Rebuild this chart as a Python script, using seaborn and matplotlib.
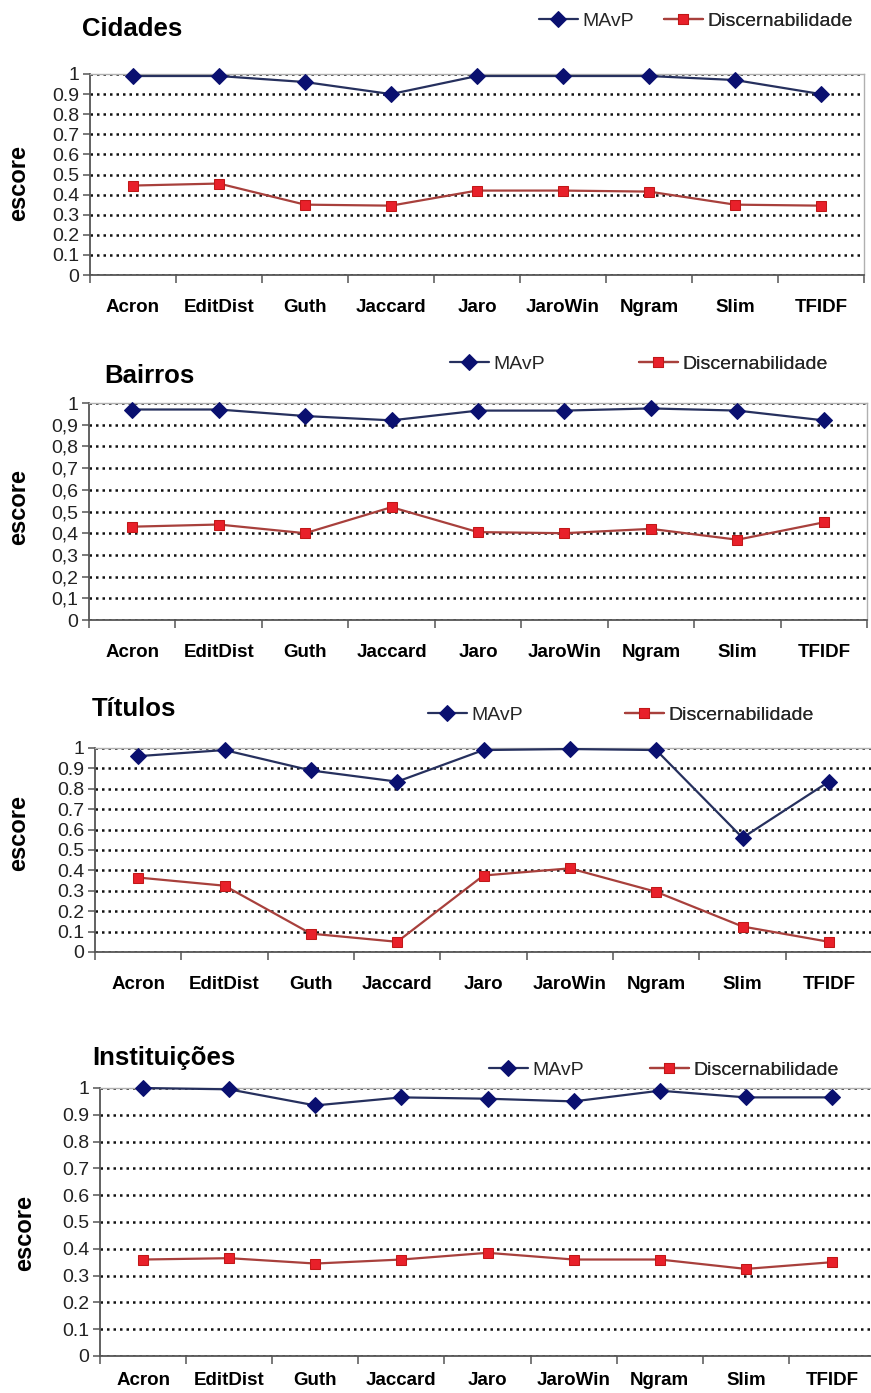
import numpy as np
import pandas as pd
import matplotlib
matplotlib.use("Agg")
import matplotlib.pyplot as plt
import seaborn as sns
from matplotlib.ticker import FixedLocator, FuncFormatter

# Métodos de similaridade avaliados
metodos = ["Acron", "EditDist", "Guth", "Jaccard", "Jaro", "JaroWin", "Ngram", "Slim", "TFIDF"]

# Escores por base de dados
cidades_mavp = [0.99, 0.99, 0.96, 0.90, 0.99, 0.99, 0.99, 0.97, 0.90]
cidades_disc = [0.445, 0.455, 0.35, 0.345, 0.42, 0.42, 0.415, 0.35, 0.345]

bairros_mavp = [0.97, 0.97, 0.94, 0.92, 0.965, 0.965, 0.975, 0.965, 0.92]
bairros_disc = [0.43, 0.44, 0.40, 0.52, 0.405, 0.40, 0.42, 0.37, 0.45]

titulos_mavp = [0.96, 0.99, 0.89, 0.835, 0.99, 0.995, 0.99, 0.56, 0.835]
titulos_disc = [0.365, 0.325, 0.09, 0.05, 0.375, 0.41, 0.295, 0.125, 0.05]

instituicoes_mavp = [1.0, 0.995, 0.935, 0.965, 0.96, 0.95, 0.99, 0.965, 0.965]
instituicoes_disc = [0.36, 0.365, 0.345, 0.36, 0.385, 0.36, 0.36, 0.325, 0.35]

titulos_paineis = ["Cidades", "Bairros", "Títulos", "Instituições"]
series_mavp = [cidades_mavp, bairros_mavp, titulos_mavp, instituicoes_mavp]
series_disc = [cidades_disc, bairros_disc, titulos_disc, instituicoes_disc]
separador_decimal = [".", ",", ".", "."]

# Geometria de cada painel em pixels: (esq, dir, topo, base)
W, H = 871, 1393
caixas = [(90, 864, 74, 275), (89, 867, 403, 620), (95, 872, 748, 952), (100, 875, 1088, 1356)]
pad_rotulos_x = [17, 17, 17, 11.5]
pos_titulo = [(82, 29), (104, 376), (92, 709), (92, 1058)]
pos_legenda = [((539, 21), (664, 21)), ((450, 364), (639, 364)),
               ((428, 715), (625, 715)), ((489, 1070), (650, 1070))]
pos_rotulo_y = [(30, 183), (30, 507), (30, 833), (36, 1233)]

COR_LINHA_MAVP = "#26305e"
COR_MARCA_MAVP = "#0a1070"
COR_LINHA_DISC = "#a8403c"
COR_MARCA_DISC = "#e8202a"

sns.set_theme(style="white")
plt.rcParams["font.family"] = ["Liberation Sans", "DejaVu Sans"]

fig = plt.figure(figsize=(W / 100, H / 100), dpi=100)
fig.patch.set_facecolor("white")


def px_fig(x, y):
    return x / W, 1 - y / H


for i, titulo in enumerate(titulos_paineis):
    l, r, t, b = caixas[i]
    ax = fig.add_axes([l / W, 1 - b / H, (r - l) / W, (b - t) / H])
    ax.set_facecolor("white")

    df_mavp = pd.DataFrame({"metodo": metodos, "escore": series_mavp[i]})
    df_disc = pd.DataFrame({"metodo": metodos, "escore": series_disc[i]})

    sns.lineplot(data=df_mavp, x="metodo", y="escore", ax=ax, color=COR_LINHA_MAVP,
                 linewidth=1.6, marker="D", markersize=8,
                 markerfacecolor=COR_MARCA_MAVP, markeredgecolor=COR_MARCA_MAVP,
                 clip_on=False, zorder=4)
    linha_mavp = ax.lines[-1]
    sns.lineplot(data=df_disc, x="metodo", y="escore", ax=ax, color=COR_LINHA_DISC,
                 linewidth=1.6, marker="s", markersize=7.5,
                 markerfacecolor=COR_MARCA_DISC, markeredgecolor="#c01818",
                 clip_on=False, zorder=4)
    linha_disc = ax.lines[-1]
    if ax.get_legend() is not None:
        ax.get_legend().remove()

    ax.set_xlim(-0.5, len(metodos) - 0.5)
    ax.set_ylim(0, 1)

    # Eixo x: rótulos no centro das categorias, marcas nas divisões
    ax.xaxis.set_major_locator(FixedLocator(range(len(metodos))))
    ax.set_xticklabels(metodos, fontweight="bold", fontsize=13.5, color="black")
    ax.xaxis.set_minor_locator(FixedLocator(np.arange(-0.5, len(metodos), 1.0)))
    ax.tick_params(axis="x", which="major", length=0, pad=pad_rotulos_x[i])
    ax.tick_params(axis="x", which="minor", length=6, width=1.1, color="#555555",
                   direction="out", bottom=True)

    # Eixo y com grade pontilhada a cada 0,1
    sep = separador_decimal[i]
    ax.yaxis.set_major_locator(FixedLocator(np.round(np.arange(0, 1.01, 0.1), 1)))

    def fmt(v, pos, sep=sep):
        if abs(v - 1) < 1e-9:
            return "1"
        if abs(v) < 1e-9:
            return "0"
        return f"{v:.1f}".replace(".", sep)

    ax.yaxis.set_major_formatter(FuncFormatter(fmt))
    ax.tick_params(axis="y", which="major", length=5, width=1.1, color="#555555",
                   direction="out", labelsize=14, pad=2.5, left=True, labelcolor="#222222")
    ax.yaxis.grid(True, linestyle=(0, (1.0, 1.6)), color="#111111", linewidth=1.8)
    ax.xaxis.grid(False)
    ax.set_axisbelow(True)

    for lado in ("left", "bottom"):
        ax.spines[lado].set_color("#555555")
        ax.spines[lado].set_linewidth(1.3)
    for lado in ("top", "right"):
        ax.spines[lado].set_color("#b0b0b0")
        ax.spines[lado].set_linewidth(1.0)

    ax.set_xlabel("")
    ax.set_ylabel("escore", fontsize=17, fontweight="bold", color="black")
    lx, ly = pos_rotulo_y[i]
    ax.yaxis.set_label_coords((lx - l) / (r - l), (b - ly) / (b - t))

    # Título do painel
    tx, ty = px_fig(*pos_titulo[i])
    fig.text(tx, ty, titulo, fontsize=18.5, fontweight="bold", ha="left", va="center",
             color="black")

    # Legendas: uma para cada série, posicionadas lado a lado
    (mx, my), (dx, dy) = pos_legenda[i]
    for linha, rotulo, (px, py) in ((linha_mavp, "MAvP", (mx, my)),
                                    (linha_disc, "Discernabilidade", (dx, dy))):
        leg = ax.legend([linha], [rotulo], loc="center left",
                        bbox_to_anchor=px_fig(px, py), bbox_transform=fig.transFigure,
                        frameon=False, borderpad=0, borderaxespad=0,
                        handlelength=2.0, handletextpad=0.25, fontsize=14,
                        numpoints=1)
        ax.add_artist(leg)

fig.savefig("out.png", dpi=100, facecolor="white")
